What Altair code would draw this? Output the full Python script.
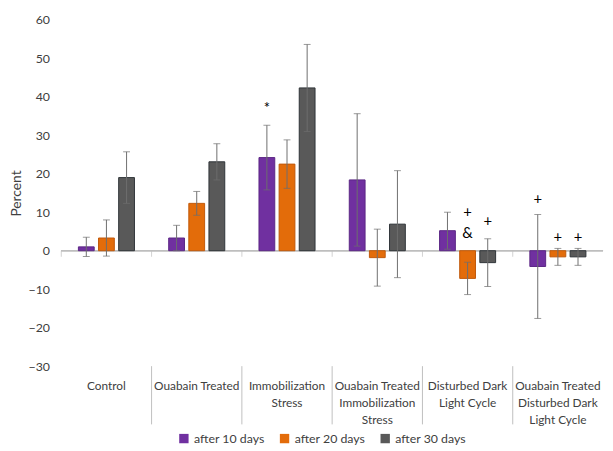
import altair as alt
import pandas as pd

groups = ["Control", "Ouabain Treated", "Immobilization|Stress",
          "Ouabain Treated|Immobilization|Stress", "Disturbed Dark|Light Cycle",
          "Ouabain Treated|Disturbed Dark|Light Cycle"]
series = ["after 10 days", "after 20 days", "after 30 days"]
colors = ["#7030A0", "#E36C0A", "#595959"]
strokes = ["#5B2785", "#C0580A", "#2F3438"]

day10 = [1.0, 3.3, 24.2, 18.4, 5.2, -4.1]
day20 = [3.3, 12.3, 22.5, -1.8, -7.2, -1.6]
day30 = [19.0, 23.1, 42.3, 6.9, -3.1, -1.6]
err10 = [2.5, 3.3, 8.4, 17.2, 4.8, 13.5]
err20 = [4.7, 3.1, 6.3, 7.4, 4.2, 2.2]
err30 = [6.7, 4.7, 11.3, 13.9, 6.2, 2.2]
y_ticks = [-30, -20, -10, 0, 10, 20, 30, 40, 50, 60]

ann_group = [groups[2], groups[4], groups[4], groups[4], groups[5], groups[5], groups[5]]
ann_series = [series[0], series[1], series[1], series[2], series[0], series[1], series[2]]
ann_y = [37.0, 10.0, 4.6, 7.6, 13.4, 3.6, 3.6]
ann_text = ["*", "+", "&", "+", "+", "+", "+"]

rows = []
for s, vals, errs in zip(series, [day10, day20, day30], [err10, err20, err30]):
    for g, v, e in zip(groups, vals, errs):
        rows.append({"group": g, "series": s, "value": v, "lo": v - e, "hi": v + e})
df = pd.DataFrame(rows)
ann = pd.DataFrame({"group": ann_group, "series": ann_series, "y": ann_y, "text": ann_text})
div = pd.DataFrame({"group": groups[1:]})
ztick = pd.DataFrame({"group": groups})

FONT = "Lato"
xscale = alt.Scale(domain=groups, paddingInner=0, paddingOuter=0)
offscale = alt.Scale(domain=series, paddingInner=0.215, paddingOuter=0.85)
yscale = alt.Scale(domain=[-30, 60], nice=False, zero=False)

xaxis = alt.Axis(title=None, domain=False, ticks=False, labelAngle=0,
                 labelPadding=15, labelBaseline="top", labelLineHeight=17,
                 labelFontSize=12, labelColor="#404040", labelFont=FONT,
                 labelLimit=200, labelExpr="split(datum.label, '|')")
yaxis = alt.Axis(title="Percent", values=y_ticks, labelOverlap=False,
                 domain=False, ticks=False, labelPadding=12,
                 labelFontSize=12.5, labelColor="#404040", labelFont=FONT,
                 titleFont=FONT, titleFontSize=14, titleFontWeight="normal",
                 titleColor="#404040", titlePadding=5,
                 gridColor="#D9D9D9", gridWidth=1)

X = alt.X("group:N", scale=xscale, sort=groups, axis=xaxis)
XO = alt.XOffset("series:N", scale=offscale, sort=series)

def Y(field):
    return alt.Y(field, scale=yscale, axis=yaxis)

base = alt.Chart(df)

zero_line = alt.Chart(ztick).mark_rule(color="#BFBFBF", strokeWidth=1).encode(
    y=alt.datum(0, scale=yscale, axis=yaxis))

zero_ticks = alt.Chart(ztick).mark_tick(orient="vertical", size=6, thickness=1,
                                        color="#BFBFBF", yOffset=3).encode(
    x=alt.X("group:N", scale=xscale, sort=groups, bandPosition=0, axis=xaxis),
    y=alt.datum(0, scale=yscale, axis=yaxis))

bars = base.mark_bar(strokeWidth=1).encode(
    x=X, xOffset=XO,
    y=Y("value:Q"),
    color=alt.Color("series:N", scale=alt.Scale(domain=series, range=colors),
                    legend=alt.Legend(title=None, orient="none", direction="horizontal",
                                      legendX=118, legendY=418, symbolType="square",
                                      symbolSize=90, symbolStrokeWidth=0,
                                      labelFontSize=12.5, labelColor="#404040",
                                      labelFont=FONT, columnPadding=14)),
    stroke=alt.Stroke("series:N", scale=alt.Scale(domain=series, range=strokes), legend=None),
)

rules = base.mark_rule(color="#6E6E6E", strokeWidth=1).encode(
    x=X, xOffset=XO, y=Y("lo:Q"), y2="hi:Q")

cap_hi = base.mark_tick(orient="horizontal", size=7, thickness=1, color="#6E6E6E").encode(
    x=X, xOffset=XO, y=Y("hi:Q"))
cap_lo = base.mark_tick(orient="horizontal", size=7, thickness=1, color="#6E6E6E").encode(
    x=X, xOffset=XO, y=Y("lo:Q"))

texts = alt.Chart(ann).mark_text(fontSize=15, font=FONT, color="black", baseline="middle").encode(
    x=X, xOffset=XO, y=Y("y:Q"), text="text:N")

dividers = alt.Chart(div).mark_rule(color="#BFBFBF", strokeWidth=1).encode(
    x=alt.X("group:N", scale=xscale, sort=groups, bandPosition=0, axis=xaxis),
    y=alt.value(351), y2=alt.value(410))

chart = alt.layer(zero_line, zero_ticks, bars, rules, cap_hi, cap_lo, texts, dividers).properties(
    width=549, height=351,
    autosize=alt.AutoSizeParams(type="none"),
    padding={"left": 54, "top": 9, "right": 2, "bottom": 82},
).configure(background="white").configure_view(stroke="transparent", strokeWidth=0)

chart.save("out.html", embed_options={"renderer": "svg", "actions": False})
